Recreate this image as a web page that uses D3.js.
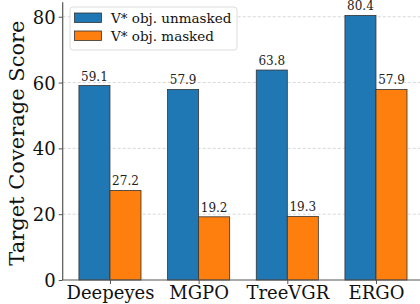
<!DOCTYPE html>
<html><head><meta charset="utf-8">
<script src="https://cdn.jsdelivr.net/npm/d3@7"></script>
<style>body{margin:0;background:#fff}svg{display:block}</style>
</head><body>
<svg id="c" width="420" height="304"></svg>
<script>
const categories = ["Deepeyes", "MGPO", "TreeVGR", "ERGO"];
const unmasked = [59.1, 57.9, 63.8, 80.4];
const masked = [27.2, 19.2, 19.3, 57.9];
const seriesNames = ["V* obj. unmasked", "V* obj. masked"];
const colors = ["#1f77b4", "#ff7f0e"];
const yTicks = [0, 20, 40, 60, 80];

(function () {
const svg = d3.select("#c");
const font = "'DejaVu Serif', 'Liberation Serif', serif";
const pLeft = 62.7, pBottom = 280, pTop = 2.2;
const step = 88.67, offset = 0.533;
const pRight = pLeft + step * (categories.length - 1 + 2 * offset);

const x = d3.scaleLinear().domain([-offset, categories.length - 1 + offset]).range([pLeft, pRight]);
const y = d3.scaleLinear().domain([0, 84.42]).range([pBottom, pTop]);
const barW = 0.35;

// grid
svg.append("g").selectAll("line").data(yTicks.filter(d => d > 0)).join("line")
  .attr("x1", pLeft).attr("x2", pRight).attr("y1", d => y(d)).attr("y2", d => y(d))
  .attr("stroke", "#b0b0b0").attr("stroke-width", 0.8).attr("stroke-dasharray", "3,2").attr("opacity", 0.6);

const series = [unmasked, masked];
series.forEach((vals, si) => {
  const g = svg.append("g");
  g.selectAll("rect").data(vals).join("rect")
    .attr("x", (d, i) => x(i + (si === 0 ? -barW : 0)))
    .attr("width", x(barW) - x(0))
    .attr("y", d => y(d))
    .attr("height", d => y(0) - y(d))
    .attr("fill", colors[si]).attr("stroke", "#333").attr("stroke-width", 0.8);
  g.selectAll("text").data(vals).join("text")
    .attr("x", (d, i) => x(i + (si === 0 ? -barW / 2 : barW / 2)))
    .attr("y", d => y(d) - 5)
    .attr("text-anchor", "middle").style("font-family", font).attr("font-size", 12).attr("fill", "#222")
    .text(d => d.toFixed(1));
});

// axes
const yAxis = d3.axisLeft(y).tickValues(yTicks).tickSize(4).tickPadding(3).tickFormat(d3.format("d"));
const ya = svg.append("g").attr("transform", `translate(${pLeft},0)`).call(yAxis);
ya.select(".domain").attr("stroke", "#555").attr("stroke-width", 1.2).attr("d", `M0,${pBottom}V${pTop}`);
ya.selectAll(".tick line").attr("stroke", "#555");
ya.selectAll(".tick text").style("font-family", font).attr("font-size", 18).attr("fill", "#111").attr("dy", "0.36em");
ya.attr("font-family", null);

const xAxis = d3.axisBottom(x).tickValues(d3.range(categories.length)).tickSize(4).tickPadding(2).tickFormat(i => categories[i]);
const xa = svg.append("g").attr("transform", `translate(0,${pBottom})`).call(xAxis);
xa.select(".domain").attr("stroke", "#555").attr("stroke-width", 1.2).attr("d", `M${pLeft},0H${pRight}`);
xa.selectAll(".tick line").attr("stroke", "#555");
xa.selectAll(".tick text").style("font-family", font).attr("font-size", 18).attr("fill", "#111");
xa.attr("font-family", null);

// y label
svg.append("text").attr("transform", `translate(24,${(pBottom + pTop) / 2 + 2}) rotate(-90)`)
  .attr("text-anchor", "middle").style("font-family", font).attr("font-size", 21).attr("fill", "#111")
  .text("Target Coverage Score");

// legend
const lg = svg.append("g");
lg.append("rect").attr("x", 70).attr("y", 7).attr("width", 167).attr("height", 43).attr("rx", 3)
  .attr("fill", "#fff").attr("fill-opacity", 0.8).attr("stroke", "#ddd");
seriesNames.forEach((n, i) => {
  lg.append("rect").attr("x", 74.5).attr("y", 13 + i * 18).attr("width", 27).attr("height", 9.5)
    .attr("fill", colors[i]).attr("stroke", "#333").attr("stroke-width", 0.8);
  lg.append("text").attr("x", 111).attr("y", 18 + i * 18).attr("dy", "0.35em")
    .style("font-family", font).attr("font-size", 13.5).attr("fill", "#111").text(n);
});
})();
</script>
</body></html>
